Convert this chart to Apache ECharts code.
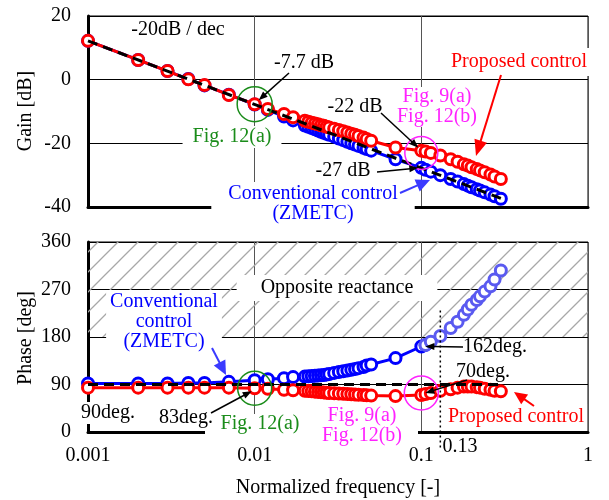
<!DOCTYPE html>
<html><head><meta charset="utf-8">
<script src="https://cdn.jsdelivr.net/npm/echarts@6/dist/echarts.min.js"></script>
<style>html,body{margin:0;padding:0;background:#fff}#c{width:609px;height:500px}</style>
</head><body><div id="c"></div>
<script>
// ---------------- data ----------------
const freq = [0.001,0.002,0.003,0.004,0.005,0.007,0.01,0.012,0.015,0.017,
  0.02,0.021,0.022,0.023,0.024,0.025,0.026,0.027,0.028,0.03,
  0.032,0.034,0.036,0.038,0.04,0.042,0.045,0.047,0.05,0.07,
  0.1,0.106,0.114,0.13,0.15,0.165,0.18,0.19,0.2,0.215,
  0.225,0.24,0.26,0.275,0.3];
const gainConventional = [12.2,6.2,2.7,0.2,-1.8,-4.7,-7.8,-9.5,-11.6,-12.8,
  -14.4,-14.8,-15.2,-15.6,-16.0,-16.4,-16.7,-17.0,-17.3,-17.9,
  -18.5,-19.0,-19.5,-20.0,-20.4,-20.8,-21.4,-21.8,-22.3,-25.0,
  -27.7,-28.3,-28.9,-30.0,-31.2,-32.0,-32.8,-33.3,-33.8,-34.4,
  -34.8,-35.4,-36.1,-36.6,-37.4];
const gainProposed = [12.2,6.2,2.7,0.1,-1.7,-4.8,-7.7,-9.2,-10.8,-11.8,
  -12.9,-13.2,-13.5,-13.8,-14.0,-14.3,-14.5,-14.8,-15.0,-15.4,
  -15.8,-16.2,-16.6,-17.0,-17.3,-17.7,-18.2,-18.6,-19.2,-21.3,
  -22.3,-22.6,-23.0,-23.8,-25.0,-25.8,-26.6,-27.0,-27.5,-28.1,
  -28.5,-29.1,-29.8,-30.4,-31.2];
const phaseConventional = [92,92,92,93,93,95,98,100,102,104,
  105,105.5,106,106.5,107,107.5,108,109,110,112,
  113.5,115,116.5,118,119.5,121,123,126,128,140,
  162,165,171,182,197,209,222,232,241,250,
  257,266,276,289,306];
const phaseProposed = [84,84,84,84,84,84,83,82,80,79,
  78,77.5,77,76.5,76,75.5,75,74.5,74,73.5,
  73,72.5,72,71.5,71,70.5,70,69.5,69,68,
  70,72,74,78,81,84,86,86,86,85,
  84,82,80,78,77];
const gainSlopeLine = [[0.001,12.2],[0.3,-37.3]];
const phaseRefLine = [[0.001,90],[0.3,90]];
const oppositeReactance = [180,360];
const xTickLabels = ['0.001','0.01','0.1','1'];
const lightFromIndex = 31;
const markedFreq = 0.13;
// ---------------- styles ----------------
const FONT = '"Liberation Serif","Times New Roman",serif';
const BLUE = '#0000ff', LBLUE = '#5a5af0', RED = '#ff0000', GREEN = '#1a8c1a', MAG = '#ff22ff';
const zip = (xs, ys) => xs.map((x, i) => [x, ys[i]]);

const pc = document.createElement('canvas');
pc.width = 20; pc.height = 20;
(function(){ const c = pc.getContext('2d'); c.strokeStyle = '#a8a8a8'; c.lineWidth = 1.3;
  c.beginPath(); c.moveTo(-5,5); c.lineTo(5,-5); c.moveTo(0,20); c.lineTo(20,0); c.moveTo(15,25); c.lineTo(25,15); c.stroke(); })();

function xAxisCfg(gi, labels){
  return {type:'log', logBase:10, min:0.001, max:1, gridIndex:gi,
    axisLine:{show:true, onZero:false, lineStyle:{color:'#000', width:3}},
    axisTick:{show:false}, minorTick:{show:false}, minorSplitLine:{show:false},
    axisLabel:{show:labels, color:'#000', fontFamily:FONT, fontSize:20, margin:14,
      formatter: v => xTickLabels[Math.round(Math.log10(v)) + 3] || ''},
    splitLine:{show:true, lineStyle:{color:'#555', width:1}}};
}
function yAxisCfg(gi, min, max, interval){
  return {type:'value', gridIndex:gi, min, max, interval,
    axisLine:{show:true, onZero:false, lineStyle:{color:'#000', width:3}},
    axisTick:{show:false},
    axisLabel:{color:'#000', fontFamily:FONT, fontSize:20, margin:17},
    splitLine:{show:true, lineStyle:{color:'#000', width:1}}};
}
function markerSeries(xi, data, color, z){
  return {type:'line', xAxisIndex:xi, yAxisIndex:xi, data, symbol:'circle', symbolSize:11,
    showAllSymbol:true, silent:true, z,
    lineStyle:{color, width:3}, itemStyle:{color:'#fff', borderColor:color, borderWidth:3}};
}
const chart = echarts.init(document.getElementById('c'));
chart.setOption({
  animation:false, backgroundColor:'#fff',
  grid:[{left:88, top:16, width:500, height:191, show:true, borderColor:'#000', borderWidth:1},
        {left:88, top:242, width:500, height:190, show:true, borderColor:'#000', borderWidth:1}],
  xAxis:[xAxisCfg(0,false), xAxisCfg(1,true)],
  yAxis:[yAxisCfg(0,-40,20,20), yAxisCfg(1,0,360,90)],
  series:[
    markerSeries(0, zip(freq, gainConventional), BLUE, 3),
    markerSeries(0, zip(freq, gainProposed), RED, 4),
    {type:'line', xAxisIndex:0, yAxisIndex:0, data:gainSlopeLine, symbol:'none', silent:true, z:5,
      lineStyle:{color:'#000', width:3, type:[10,6]}},
    {type:'line', xAxisIndex:1, yAxisIndex:1, data:phaseRefLine, symbol:'none', silent:true, z:1,
      lineStyle:{opacity:0},
      markArea:{silent:true, itemStyle:{color:{image:pc, repeat:'repeat'}},
        data:[[{coord:[0.001, oppositeReactance[0]]},{coord:[1, oppositeReactance[1]]}]]}},
    markerSeries(1, zip(freq, phaseConventional).slice(0, lightFromIndex + 1), BLUE, 3),
    markerSeries(1, zip(freq, phaseConventional).slice(lightFromIndex), LBLUE, 3),
    markerSeries(1, zip(freq, phaseProposed), RED, 4),
    {type:'line', xAxisIndex:1, yAxisIndex:1, data:phaseRefLine, symbol:'none', silent:true, z:5,
      lineStyle:{color:'#000', width:3, type:[10,6]}}
  ]
});

// ---------------- annotations ----------------
const P0 = v => chart.convertToPixel({gridIndex:0}, v);
const P1 = v => chart.convertToPixel({gridIndex:1}, v);
const G = [];
function txt(x, y, text, color, bg, pad){
  const st = {x, y, text, fill:color, font:'20px ' + FONT, align:'center', verticalAlign:'middle', lineHeight:20};
  if (bg) { st.backgroundColor = '#fff'; st.padding = pad || [0,3]; }
  G.push({type:'text', z:20, silent:true, style:st});
}
function ring(c, r, color){
  G.push({type:'circle', z:21, silent:true, shape:{cx:c[0], cy:c[1], r}, style:{fill:null, stroke:color, lineWidth:1.5}});
}
function arrow(x1, y1, x2, y2, color, lw, hl, hw){
  const dx = x2 - x1, dy = y2 - y1, L = Math.hypot(dx, dy), ux = dx / L, uy = dy / L;
  const bx = x2 - ux * hl, by = y2 - uy * hl;
  G.push({type:'line', z:22, silent:true, shape:{x1, y1, x2:bx + ux * 1, y2:by + uy * 1}, style:{stroke:color, lineWidth:lw}});
  G.push({type:'polygon', z:22, silent:true, shape:{points:[[x2,y2],[bx - uy * hw, by + ux * hw],[bx + uy * hw, by - ux * hw]]}, style:{fill:color}});
}
// top panel
const g12a = P0([0.01, -7.7]), g9a = P0([0.1, -23]);
const gR = P0([0.1, -22.3]), gB = P0([0.1, -27.7]);
txt(178, 30, '-20dB / dec', '#000', false);
ring(g12a, 17.5, GREEN);
txt(232, 137, 'Fig. 12(a)', GREEN, true, [1,10]);
txt(304, 63, '-7.7 dB', '#000', false);
arrow(289, 73, g12a[0] + 4, g12a[1] - 4, '#000', 1.5, 9, 3.5);
txt(437, 107, 'Fig. 9(a)\nFig. 12(b)', MAG, true, [0,4]);
ring(g9a, 16.5, MAG);
txt(355, 107, '-22 dB', '#000', false);
arrow(381, 113, gR[0] - 3, gR[1] - 3, '#000', 1.5, 9, 3.5);
txt(343, 171, '-27 dB', '#000', false);
arrow(377, 172, gB[0] - 3, gB[1], '#000', 1.5, 9, 3.5);
txt(313, 204, 'Conventional control\n(ZMETC)', BLUE, true, [2,17,2,17]);
arrow(400, 193, 430, 180, '#3a3aff', 2, 14, 6.5);
txt(519, 62, 'Proposed control', RED, true, [3,2,5,2]);
arrow(501, 75, 476, 156, RED, 2, 16, 6.5);
// bottom panel
const p12a = P1([0.01, 83]), p9a = P1([0.1, 74]);
const pB = P1([0.1, 162]), pR = P1([0.1, 72]);
txt(337, 288, 'Opposite reactance', '#000', true, [3,24]);
txt(164, 322, 'Conventional\ncontrol\n(ZMETC)', BLUE, true, [2,4]);
arrow(212, 348, 226, 375, '#3a3aff', 2, 14, 6.5);
txt(108, 413, '90deg.', '#000', true, [1,2]);
txt(186, 418, '83deg.', '#000', false);
ring(p12a, 17, GREEN);
arrow(211, 413, p12a[0] - 3, p12a[1] + 3, '#000', 1.5, 9, 3.5);
G.push({type:'rect', z:19, silent:true, shape:{x:205, y:427, width:213, height:10}, style:{fill:'#fff'}});
txt(260, 424, 'Fig. 12(a)', GREEN, true, [0,4]);
txt(362, 426, 'Fig. 9(a)\nFig. 12(b)', MAG, true, [0,4]);
ring(p9a, 17, MAG);
const d1 = P1([markedFreq, 230]);
G.push({type:'line', z:18, silent:true, shape:{x1:d1[0], y1:d1[1], x2:d1[0], y2:450}, style:{stroke:'#000', lineWidth:1.5, lineDash:[2,3]}});
txt(495, 347, '162deg.', '#000', false);
arrow(463, 347, pB[0] + 4, pB[1], '#000', 1.5, 9, 3.5);
txt(483, 372, '70deg.', '#000', false);
arrow(467, 380, pR[0] + 4, pR[1] - 1, '#000', 1.5, 9, 3.5);
txt(516, 417, 'Proposed control', RED, true, [2,3,5,3]);
arrow(534, 406, 514, 392, RED, 2, 13, 6);
txt(460, 447, '0.13', '#000', false);
// axis names
G.push({type:'text', z:20, silent:true, x:26, y:111, rotation:Math.PI/2,
  style:{x:0, y:0, text:'Gain [dB]', fill:'#000', font:'20px ' + FONT, align:'center', verticalAlign:'middle'}});
G.push({type:'text', z:20, silent:true, x:26, y:338, rotation:Math.PI/2,
  style:{x:0, y:0, text:'Phase [deg]', fill:'#000', font:'20px ' + FONT, align:'center', verticalAlign:'middle'}});
txt(338, 488, 'Normalized frequency [-]', '#000', false);
chart.setOption({graphic:{elements:G}});
</script></body></html>
